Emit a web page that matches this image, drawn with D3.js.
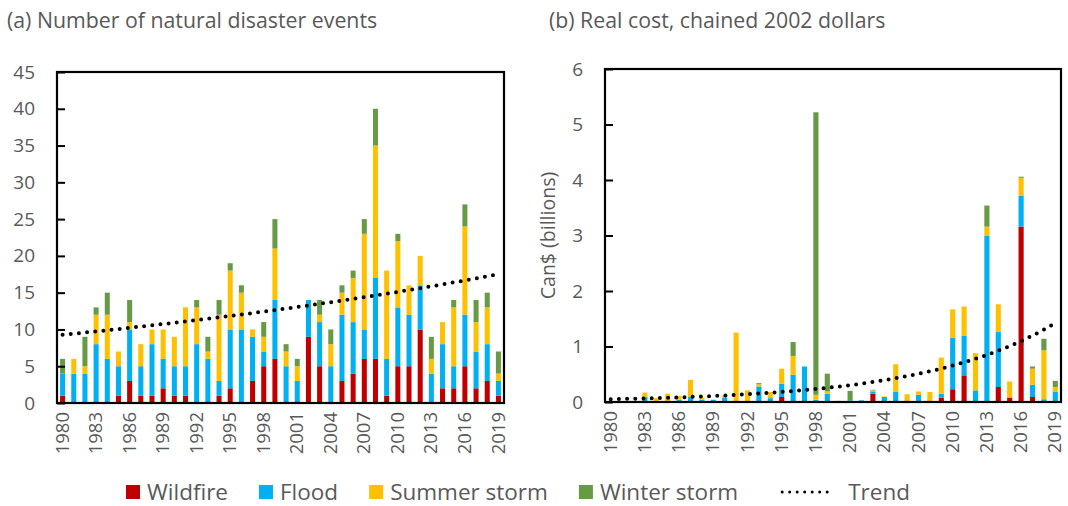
<!DOCTYPE html>
<html>
<head>
<meta charset="utf-8">
<script src="https://cdn.jsdelivr.net/npm/d3@7"></script>
<style>
  body { margin: 0; background: #fff; }
  text { font-family: "Open Sans", sans-serif; fill: #595959; }
</style>
</head>
<body>
<svg id="chart" width="1068" height="506"></svg>
<script>
// categories
const years = d3.range(1980, 2020);
const tickYears = years.filter(y => (y - 1980) % 3 === 0);
const seriesNames = ["Wildfire", "Flood", "Summer storm", "Winter storm"];
const seriesColors = ["#C00000", "#00B0F0", "#FFC000", "#679A45"];

// (a) number of events, 1980..2019
const countWildfire = [1,0,0,0,0,1,3,1,1,2, 1,1,0,0,1,2,0,3,5,6, 0,0,9,5,0,3,4,6,6,1, 5,5,10,0,2,2,5,2,3,1];
const countFlood    = [3,4,4,8,6,4,7,4,7,4, 4,4,8,6,2,8,10,6,2,8, 5,3,5,6,5,9,7,4,11,5, 8,7,6,4,6,3,7,5,5,2];
const countSummer   = [0,2,1,4,6,2,1,3,2,4, 4,8,5,1,9,8,5,1,2,7, 2,2,0,1,3,3,6,13,18,12, 9,4,4,2,3,8,12,4,5,1];
const countWinter   = [2,0,4,1,3,0,3,0,0,0, 0,0,1,2,2,1,1,0,2,4, 1,1,0,2,2,1,1,2,5,0, 1,0,0,3,0,1,3,3,2,3];
const countTrend = [9.27, 17.5]; // exponential trend, value at 1980 and 2019

// (b) real cost, Can$ billions (chained 2002 dollars)
const costWildfire = [0,0,0,0,0,0,0,0,0,0, 0,0,0,0,0,0.09,0,0,0,0, 0,0,0,0.15,0,0,0,0,0,0.08, 0.23,0.48,0,0,0.27,0.08,3.16,0.09,0,0];
const costFlood    = [0,0,0,0.09,0,0.01,0.04,0.09,0.04,0.04, 0.08,0,0,0.28,0.07,0.24,0.49,0.64,0.04,0.15, 0,0.03,0.03,0.04,0.09,0.18,0,0.13,0,0.07, 0.93,0.71,0.21,3.0,0.99,0,0.56,0.22,0.05,0.19];
const costSummer   = [0,0,0,0.08,0.07,0.14,0.07,0.31,0.04,0, 0.04,1.25,0.21,0.04,0.11,0.27,0.34,0,0.09,0.04, 0,0,0,0.02,0.01,0.5,0.14,0.06,0.18,0.65, 0.51,0.53,0.67,0.16,0.5,0.29,0.32,0.29,0.88,0.08];
const costWinter   = [0,0,0,0,0,0,0,0,0,0, 0,0,0,0.02,0,0,0.25,0,5.09,0.32, 0.02,0.17,0,0.01,0,0,0,0,0,0, 0,0,0,0.38,0,0,0.02,0.04,0.21,0.11];
const costTrend = [0.05, 1.42]; // exponential trend, value at 1980 and 2019

const svg = d3.select("#chart");
svg.append("rect").attr("width", 1068).attr("height", 506).attr("fill", "#fff");

function panel(opts) {
  const rows = years.map((yr, i) => ({
    year: yr,
    Wildfire: opts.series[0][i],
    Flood: opts.series[1][i],
    "Summer storm": opts.series[2][i],
    "Winter storm": opts.series[3][i]
  }));
  const stacked = d3.stack().keys(seriesNames)(rows);

  const x = d3.scaleBand().domain(years).range([opts.left, opts.right]).paddingInner(0.55).paddingOuter(0.275);
  const y = d3.scaleLinear().domain([0, opts.max]).range([opts.bottom, opts.top]);

  const g = svg.append("g");

  // title
  g.append("text")
    .attr("x", opts.titleX).attr("y", 28)
    .style("font-size", "21.3px")
    .text(opts.title);

  // bars
  g.selectAll("g.layer")
    .data(stacked)
    .join("g")
    .attr("class", "layer")
    .attr("fill", (d, i) => seriesColors[i])
    .selectAll("rect")
    .data(d => d)
    .join("rect")
    .attr("x", d => x(d.data.year))
    .attr("width", x.bandwidth())
    .attr("y", d => y(d[1]))
    .attr("height", d => Math.max(0, y(d[0]) - y(d[1])));

  // exponential trend through the two end values
  const t0 = years[0], t1 = years[years.length - 1];
  const trendVal = yr => opts.trend[0] * Math.pow(opts.trend[1] / opts.trend[0], (yr - t0) / (t1 - t0));
  g.append("path")
    .datum(years)
    .attr("fill", "none")
    .attr("stroke", "#000")
    .attr("stroke-width", 4)
    .attr("stroke-linecap", "round")
    .attr("stroke-dasharray", "0 8.2")
    .attr("d", d3.line().x(d => x(d) + x.bandwidth() / 2).y(d => y(trendVal(d))));

  // y axis (inward ticks)
  const ya = g.append("g")
    .attr("transform", `translate(${opts.left},0)`)
    .call(d3.axisLeft(y).tickValues(opts.yTicks).tickSize(-8).tickPadding(22).tickFormat(d3.format("d")));
  ya.select(".domain").remove();
  ya.selectAll("line").attr("stroke", "#000").attr("stroke-width", 2);
  ya.selectAll("text").style("font-size", "19px").attr("fill", "#595959");

  // x axis
  const xa = g.append("g")
    .attr("transform", `translate(0,${opts.bottom})`)
    .call(d3.axisBottom(x).tickValues(tickYears).tickSize(0));
  xa.select(".domain").remove();
  xa.selectAll("text")
    .style("font-size", "18.5px")
    .attr("fill", "#595959")
    .attr("text-anchor", "end")
    .attr("transform", "rotate(-90)")
    .attr("x", -9)
    .attr("y", 0)
    .attr("dy", "0.33em");

  // frame
  g.append("rect")
    .attr("x", opts.left).attr("y", opts.top)
    .attr("width", opts.right - opts.left).attr("height", opts.bottom - opts.top)
    .attr("fill", "none").attr("stroke", "#000").attr("stroke-width", 2.2);

  if (opts.yLabel) {
    g.append("text")
      .attr("transform", `translate(${opts.left - 50},${(opts.top + opts.bottom) / 2}) rotate(-90)`)
      .attr("text-anchor", "middle")
      .style("font-size", "19.5px")
      .text(opts.yLabel);
  }
}

panel({
  title: "(a) Number of natural disaster events",
  titleX: 7,
  series: [countWildfire, countFlood, countSummer, countWinter],
  trend: countTrend,
  max: 45, yTicks: d3.range(0, 46, 5),
  left: 57, right: 504, top: 72, bottom: 403
});

panel({
  title: "(b) Real cost, chained 2002 dollars",
  titleX: 549,
  series: [costWildfire, costFlood, costSummer, costWinter],
  trend: costTrend,
  max: 6, yTicks: d3.range(0, 7, 1),
  yLabel: "Can$ (billions)",
  left: 605, right: 1061, top: 69, bottom: 402
});

// legend
const leg = svg.append("g").attr("transform", "translate(0,492)");
let lx = 126;
seriesNames.forEach((name, i) => {
  leg.append("rect").attr("x", lx).attr("y", -7).attr("width", 14).attr("height", 14).attr("fill", seriesColors[i]);
  const t = leg.append("text").attr("x", lx + 21).attr("y", 0).attr("dy", "0.34em")
    .style("font-size", "22.5px").text(name);
  lx += 21 + t.node().getComputedTextLength() + 31;
});
lx += 13;
leg.append("line").attr("x1", lx).attr("x2", lx + 50).attr("y1", 0).attr("y2", 0)
  .attr("stroke", "#000").attr("stroke-width", 3).attr("stroke-dasharray", "0 7.5").attr("stroke-linecap", "round");
leg.append("text").attr("x", lx + 66).attr("y", 0).attr("dy", "0.34em").style("font-size", "22.5px").text("Trend");
</script>
</body>
</html>
